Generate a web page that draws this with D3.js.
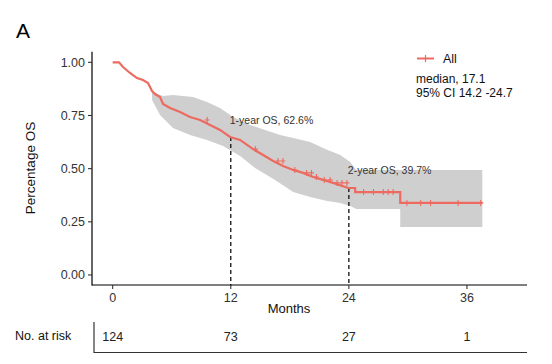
<!DOCTYPE html>
<html><head><meta charset="utf-8">
<script src="https://cdn.jsdelivr.net/npm/d3@7"></script>
<style>body{margin:0;background:#fff}svg{display:block;font-family:"Liberation Sans",Arial,sans-serif}</style>
</head><body>
<script>
// Kaplan-Meier estimate (months, survival)
const kmTime = [0,0.64,1.05,1.76,2.47,3.08,3.59,4.0,4.3,4.81,5.12,5.83,6.85,7.86,8.88,9.9,10.91,11.93,12.95,14.27,15.29,16.3,17.32,18.34,19.35,20.37,21.39,22.4,23.93,24.64,24.64,29.22,29.22,37.56];
const kmSurv = [1.0,1.0,0.978,0.95,0.926,0.917,0.903,0.865,0.851,0.837,0.804,0.785,0.766,0.743,0.729,0.705,0.682,0.649,0.635,0.592,0.564,0.536,0.512,0.494,0.48,0.461,0.447,0.433,0.409,0.409,0.39,0.39,0.339,0.339];
// Confidence band
const ciUpTime = [4.0,5.12,6.13,8.17,9.59,10.91,12.24,13.96,15.49,17.01,18.34,20.07,21.6,23.13,24.14,24.75,37.56];
const ciUp     = [0.860,0.842,0.846,0.837,0.813,0.785,0.743,0.705,0.682,0.658,0.644,0.625,0.592,0.564,0.531,0.494,0.494];
const ciLoTime = [4.0,4.81,6.13,7.86,9.59,11.22,12.95,14.47,16.5,18.34,20.07,21.8,23.13,24.14,24.75,29.22,29.22,37.56];
const ciLo     = [0.823,0.752,0.691,0.658,0.635,0.606,0.559,0.503,0.447,0.39,0.367,0.348,0.339,0.324,0.310,0.310,0.226,0.226];
// Censored observations
const censorTime = [9.6,14.5,16.8,17.3,18.5,19.7,20.2,20.7,21.5,22.1,22.8,23.3,23.8,25.5,26.5,27.5,28.0,28.5,29.9,31.3,32.3,35.1,37.4];
const xTicks = [0,12,24,36];
const yTicks = [0,0.25,0.5,0.75,1.0];
const landmarks = [{t:12, s:0.626, label:"1-year OS, 62.6%"},{t:24, s:0.397, label:"2-year OS, 39.7%"}];
const riskTimes = [0,12,24,36];
const riskCounts = [124,73,27,1];

const W=552,H=364;
const svg=d3.select("body").append("svg").attr("width",W).attr("height",H);
const x=d3.scaleLinear().domain([-2,42]).range([93,526]);
const y=d3.scaleLinear().domain([-0.05,1.05]).range([285.6,51.7]);
const red="#ec6a60", txt="#333";

function survAt(t){let s=1;for(let i=0;i<kmTime.length;i++){if(kmTime[i]<=t)s=kmSurv[i];}return s;}

// CI band
const upLine = ciUpTime.map((t,i)=>[x(t),y(ciUp[i])]);
const loLine = ciLoTime.map((t,i)=>[x(t),y(ciLo[i])]);
const poly = upLine.concat(loLine.slice().reverse());
svg.append("path").attr("d","M"+poly.map(p=>p.join(",")).join("L")+"Z").attr("fill","#cfcfcf");

// dashed landmark lines
landmarks.forEach(d=>{
  svg.append("line").attr("x1",x(d.t)).attr("x2",x(d.t)).attr("y1",y(survAt(d.t))).attr("y2",y(-0.05))
    .attr("stroke","#111").attr("stroke-width",1.3).attr("stroke-dasharray","4,3");
});

// KM curve
const line=d3.line().x((d,i)=>x(kmTime[i])).y((d,i)=>y(kmSurv[i]));
svg.append("path").datum(kmTime).attr("d",line).attr("fill","none").attr("stroke",red).attr("stroke-width",2.2);

// censor marks
censorTime.forEach(t=>{
  const cx=x(t), cy=y(survAt(t));
  svg.append("path").attr("d",`M${cx},${cy-3}V${cy+3}M${cx-2.5},${cy}H${cx+2.5}`).attr("stroke",red).attr("stroke-width",1.1);
});

// landmark labels
landmarks.forEach(d=>{
  svg.append("text").attr("x",x(d.t)-1).attr("y",d.t===12?124:174).attr("font-size",10.5).attr("fill",txt).text(d.label);
});

// axes
svg.append("line").attr("x1",92).attr("x2",92).attr("y1",51.7).attr("y2",285.6).attr("stroke","#000").attr("stroke-width",1.2);
svg.append("line").attr("x1",92).attr("x2",527).attr("y1",285).attr("y2",285).attr("stroke","#000").attr("stroke-width",1.2);
yTicks.forEach(v=>{
  svg.append("line").attr("x1",88).attr("x2",92).attr("y1",y(v)).attr("y2",y(v)).attr("stroke","#333").attr("stroke-width",1.1);
  svg.append("text").attr("x",85).attr("y",y(v)).attr("dy","0.36em").attr("text-anchor","end").attr("font-size",12.5).attr("fill",txt).text(v.toFixed(2));
});
xTicks.forEach(v=>{
  svg.append("line").attr("x1",x(v)).attr("x2",x(v)).attr("y1",285).attr("y2",289).attr("stroke","#333").attr("stroke-width",1.1);
  svg.append("text").attr("x",x(v)).attr("y",297).attr("dy","0.36em").attr("text-anchor","middle").attr("font-size",12.5).attr("fill",txt).text(v);
});
svg.append("text").attr("x",289).attr("y",308).attr("dy","0.36em").attr("text-anchor","middle").attr("font-size",13).attr("fill","#111").text("Months");
svg.append("text").attr("transform","translate(30,168) rotate(-90)").attr("text-anchor","middle").attr("dy","0.36em").attr("font-size",13.5).attr("fill","#111").text("Percentage OS");
svg.append("text").attr("x",16).attr("y",38).attr("font-size",21).attr("fill","#000").text("A");

// legend
svg.append("line").attr("x1",417).attr("x2",434).attr("y1",58.5).attr("y2",58.5).attr("stroke",red).attr("stroke-width",2);
svg.append("path").attr("d","M425.5,55V62").attr("stroke",red).attr("stroke-width",1.2);
svg.append("text").attr("x",443).attr("y",58.5).attr("dy","0.36em").attr("font-size",12.5).attr("fill","#111").text("All");
svg.append("text").attr("x",416).attr("y",79).attr("dy","0.36em").attr("font-size",12).attr("fill","#111").text("median, 17.1");
svg.append("text").attr("x",416).attr("y",92.5).attr("dy","0.36em").attr("font-size",12).attr("fill","#111").text("95% CI 14.2 -24.7");

// risk table
svg.append("text").attr("x",15).attr("y",335).attr("dy","0.36em").attr("font-size",12.5).attr("fill","#111").text("No. at risk");
svg.append("line").attr("x1",94).attr("x2",94).attr("y1",322).attr("y2",353).attr("stroke","#333").attr("stroke-width",1.2);
svg.append("line").attr("x1",94).attr("x2",527).attr("y1",352.5).attr("y2",352.5).attr("stroke","#333").attr("stroke-width",1.2);
riskTimes.forEach((t,i)=>{
  svg.append("text").attr("x",x(t)).attr("y",336.5).attr("dy","0.36em").attr("text-anchor","middle").attr("font-size",12.5).attr("fill","#222").text(riskCounts[i]);
});
</script>
</body></html>
